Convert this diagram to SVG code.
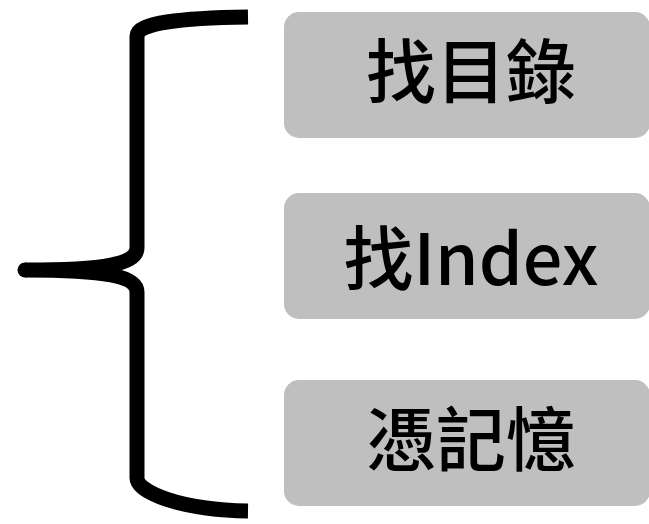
<svg xmlns="http://www.w3.org/2000/svg" width="649" height="524" viewBox="0 0 649 524">
<style>
.box{fill:#bfbfbf}
.lbl{font-family:"Noto Sans CJK TC","Noto Sans CJK SC",sans-serif;font-size:70px;font-weight:500;fill:#000;text-anchor:middle}
.brace{fill:none;stroke:#000;stroke-width:15}
</style>
<rect width="649" height="524" fill="#fff"/>
<g id="connectors">
<path class="brace" d="M248,17 C180,18 137,23 137,36 L137,248 C137,264 105,270 25,270 C105,270 137,276 137,292 L137,478 C137,492 180,510 248,511"/>
<circle cx="25" cy="270" r="7.5" fill="#000"/>
</g>
<g id="node1"><rect class="box" x="284" y="12" width="366" height="126" rx="15"/><text class="lbl" x="471" y="98">找目錄</text></g>
<g id="node2"><rect class="box" x="284" y="193" width="366" height="126" rx="15"/><text class="lbl" x="471" y="285">找Index</text></g>
<g id="node3"><rect class="box" x="284" y="380" width="366" height="126" rx="15"/><text class="lbl" x="471" y="466">憑記憶</text></g>
</svg>
